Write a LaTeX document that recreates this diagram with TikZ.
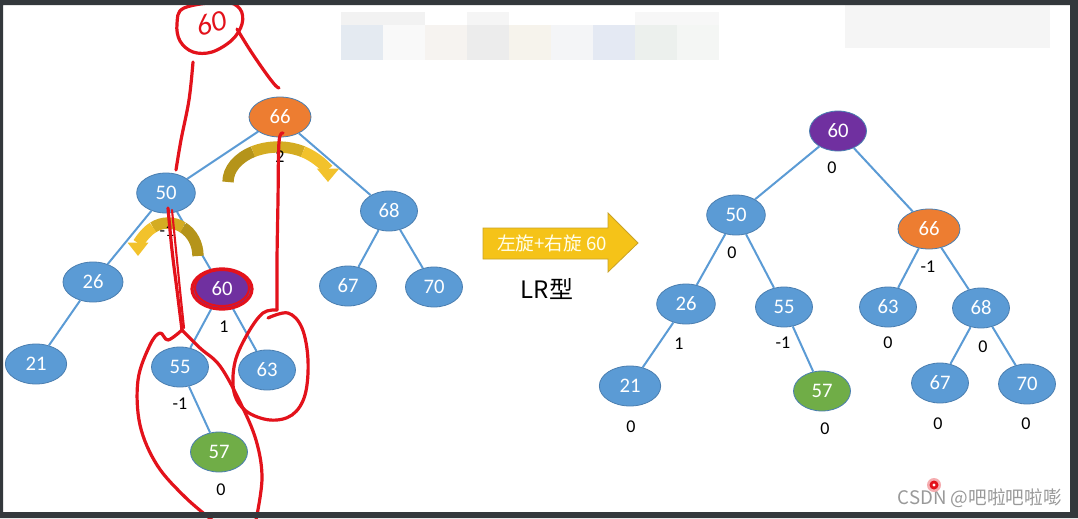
\documentclass[tikz,border=0pt]{standalone}
\usepackage{fontspec}
\setmainfont{Carlito}
\newfontfamily\cjk{Noto Sans CJK SC}
\usetikzlibrary{shapes.geometric,arrows.meta}
\definecolor{nblue}{HTML}{5B9BD5}
\definecolor{nbluedark}{HTML}{4A7EB0}
\definecolor{norange}{HTML}{ED7D31}
\definecolor{npurple}{HTML}{7030A0}
\definecolor{ngreen}{HTML}{70AD47}
\definecolor{framecol}{HTML}{33383C}
\definecolor{penred}{HTML}{E3121B}
\definecolor{goldA}{HTML}{B5941A}
\definecolor{goldB}{HTML}{D4AC22}
\definecolor{goldC}{HTML}{F2C22C}
\definecolor{bigarrow}{HTML}{F5C318}
\definecolor{bigarrowedge}{HTML}{C9A227}
\begin{document}
\begin{tikzpicture}[x=0.75pt,y=-0.75pt,
  tn/.style={ellipse, draw=nbluedark, line width=0.6pt, fill=nblue, text=white,
    minimum width=42.75pt, minimum height=30pt, inner sep=0pt,
    font=\fontsize{15.5}{15.5}\selectfont},
  bal/.style={font=\fontsize{13.5}{13.5}\selectfont, text=black, inner sep=0pt},
  edge/.style={draw=nblue, line width=1.5pt},
  pen/.style={draw=penred, line width=2.4pt, line cap=round, line join=round},
  turn/.style={line width=8.5pt},
  tile/.style={draw=none}]
\useasboundingbox (0,0) rectangle (1078,518);
\fill[white] (0,0) rectangle (1078,518);

% faint blurred mosaic at the top
\fill[tile, fill=black!5] (341,12) rectangle (425,25);
\fill[tile, fill=black!4] (467,12) rectangle (509,25);
\fill[tile, fill=black!3] (635,12) rectangle (719,25);
\fill[tile, fill={rgb,255:red,228;green,234;blue,241}] (341,25) rectangle (383,60);
\fill[tile, fill={rgb,255:red,249;green,249;blue,249}] (383,25) rectangle (425,60);
\fill[tile, fill={rgb,255:red,246;green,243;blue,240}] (425,25) rectangle (467,60);
\fill[tile, fill={rgb,255:red,236;green,236;blue,236}] (467,25) rectangle (509,60);
\fill[tile, fill={rgb,255:red,246;green,243;blue,236}] (509,25) rectangle (551,60);
\fill[tile, fill={rgb,255:red,244;green,245;blue,247}] (551,25) rectangle (593,60);
\fill[tile, fill={rgb,255:red,228;green,233;blue,243}] (593,25) rectangle (635,60);
\fill[tile, fill={rgb,255:red,236;green,240;blue,237}] (635,25) rectangle (677,60);
\fill[tile, fill={rgb,255:red,244;green,246;blue,244}] (677,25) rectangle (719,60);
\fill[tile, fill=black!4] (845,5) rectangle (1050,48);

% ---------- left tree ----------
\node[tn, fill=norange, minimum width=46.5pt] (L66) at (280,117) {66};
\node[tn, minimum width=44pt] (L50) at (166,193) {50};
\node[tn] (L68) at (389,211) {68};
\node[tn, minimum width=45pt] (L26) at (93,282) {26};
\node[tn, fill=npurple] (L60) at (222,289) {60};
\node[tn] (L67) at (348,286) {67};
\node[tn] (L70) at (434,287) {70};
\node[tn, minimum width=46pt] (L21) at (36,364) {21};
\node[tn] (L55) at (180,367) {55};
\node[tn] (L63) at (267,370) {63};
\node[tn, fill=ngreen] (L57) at (219,452) {57};

\draw[edge] (L66) -- (L50);
\draw[edge] (L66) -- (L68);
\draw[edge] (L50) -- (L26);
\draw[edge] (L50) -- (L60);
\draw[edge] (L26) -- (L21);
\draw[edge] (L60) -- (L55);
\draw[edge] (L60) -- (L63);
\draw[edge] (L68) -- (L67);
\draw[edge] (L68) -- (L70);
\draw[edge] (L55) -- (L57);

% rotation arrows
\draw[turn, goldA] (228,182) arc[start angle=180, end angle=240, x radius=50, y radius=35];
\draw[turn, goldB] (278,182) ++(240:50 and 35) arc[start angle=240, end angle=300, x radius=50, y radius=35];
\draw[turn, goldC, -{Triangle[length=10pt,width=16pt]}] (278,182) ++(300:50 and 35) arc[start angle=300, end angle=360, x radius=50, y radius=35];

\draw[turn, goldA] (198,256) arc[start angle=0, end angle=-60, x radius=30, y radius=33];
\draw[turn, goldB] (168,256) ++(-60:30 and 33) arc[start angle=-60, end angle=-120, x radius=30, y radius=33];
\draw[turn, goldC, -{Triangle[length=10pt,width=15pt]}] (168,256) ++(-120:30 and 33) arc[start angle=-120, end angle=-180, x radius=30, y radius=33];

% balance factors, left tree
\node[bal] (bL66) at (280,157) {2};
\node[bal] (bL50) at (167,231) {-1};
\node[bal] (bL60) at (224,327) {1};
\node[bal] (bL55) at (180,404) {-1};
\node[bal] (bL57) at (221,490) {0};

% ---------- arrow and caption ----------
\draw[fill=bigarrow, draw=bigarrowedge, line width=0.6pt]
  (483,228) -- (608,228) -- (608,213) -- (638,243) -- (608,272) -- (608,259) -- (483,259) -- cycle;
\node[text=white!92!yellow, font=\cjk\fontsize{14}{14}\selectfont, inner sep=0pt] (rot) at (552,243) {左旋+右旋 60};
\node[font=\cjk\fontsize{18}{18}\selectfont, inner sep=0pt] (lr) at (547,289) {LR型};

% ---------- right tree ----------
\node[tn, fill=npurple] (R60) at (838,131) {60};
\node[tn, minimum width=44pt] (R50) at (736,215) {50};
\node[tn, fill=norange, minimum width=46.5pt] (R66) at (929,229) {66};
\node[tn, minimum width=44pt] (R26) at (686,304) {26};
\node[tn] (R55) at (784,307) {55};
\node[tn] (R63) at (888,307) {63};
\node[tn] (R68) at (981,308) {68};
\node[tn, minimum width=46pt] (R21) at (630,386) {21};
\node[tn, fill=ngreen] (R57) at (822,391) {57};
\node[tn] (R67) at (940,383) {67};
\node[tn] (R70) at (1027,384) {70};

\draw[edge] (R60) -- (R50);
\draw[edge] (R60) -- (R66);
\draw[edge] (R50) -- (R26);
\draw[edge] (R50) -- (R55);
\draw[edge] (R66) -- (R63);
\draw[edge] (R66) -- (R68);
\draw[edge] (R26) -- (R21);
\draw[edge] (R55) -- (R57);
\draw[edge] (R68) -- (R67);
\draw[edge] (R68) -- (R70);

\node[bal] (bR60) at (832,168) {0};
\node[bal] (bR50) at (732,253) {0};
\node[bal] (bR66) at (928,267) {-1};
\node[bal] (bR26) at (679,344) {1};
\node[bal] (bR55) at (783,343) {-1};
\node[bal] (bR63) at (888,343) {0};
\node[bal] (bR68) at (983,347) {0};
\node[bal] (bR21) at (631,427) {0};
\node[bal] (bR57) at (825,429) {0};
\node[bal] (bR67) at (938,424) {0};
\node[bal] (bR70) at (1026,424) {0};

% ---------- red handwriting ----------
\draw[pen] (L60) ellipse[x radius=30, y radius=20];
\draw[pen, line width=1.5pt] (222,288) ellipse[x radius=27, y radius=18];
\draw[pen] plot[smooth cycle, tension=0.6] coordinates {(224,2) (240,9) (242,24) (232,40) (212,52) (193,52) (180,41) (177,24) (184,8)};
\node[text=penred, rotate=14, font=\itshape\fontsize{22}{22}\selectfont, inner sep=0pt] (hw) at (211,23) {60};
\draw[pen] plot[smooth, tension=0.6] coordinates {(193,62) (189,100) (181,140) (176,170)};
\draw[pen] plot[smooth, tension=0.6] coordinates {(237,29) (250,50) (265,72) (275,85) (279,88)};
\draw[pen] plot[smooth, tension=0.6] coordinates {(283,133) (279,142) (278,200) (277,260) (277,310)};
\draw[pen] plot[smooth, tension=0.6] coordinates {(277,310) (263,313) (248,333) (235,362) (234,392) (246,411) (270,420) (292,415) (305,395) (308,360) (302,328) (288,313) (268,318)};
\draw[pen] plot[smooth, tension=0.6] coordinates {(168,208) (172,250) (177,290) (182,330)};
\draw[pen, line width=1.6pt] plot[smooth, tension=0.6] coordinates {(172,210) (176,250) (180,290) (184,328)};
\draw[pen] plot[smooth, tension=0.6] coordinates {(182,330) (168,340) (160,333) (150,345) (138,380) (140,425) (157,465) (185,497) (212,520)};
\draw[pen] plot[smooth, tension=0.6] coordinates {(182,330) (200,348) (220,366) (240,402) (256,440) (262,478) (256,520)};

% ---------- watermark and pointer ----------
\node[anchor=east, text=black!40, font=\cjk\fontsize{14}{14}\selectfont, inner sep=0pt] (wm) at (1062,498) {CSDN @吧啦吧啦嘭};
\fill[penred!35] (934,485) circle[radius=7];
\fill[penred] (934,485) circle[radius=4.5];
\fill[white] (934,485) circle[radius=1.6];

% ---------- dark frame ----------
\fill[framecol, even odd rule] (0,0) rectangle (1078,518) (3,5) rectangle (1070,512);
\end{tikzpicture}
\end{document}
